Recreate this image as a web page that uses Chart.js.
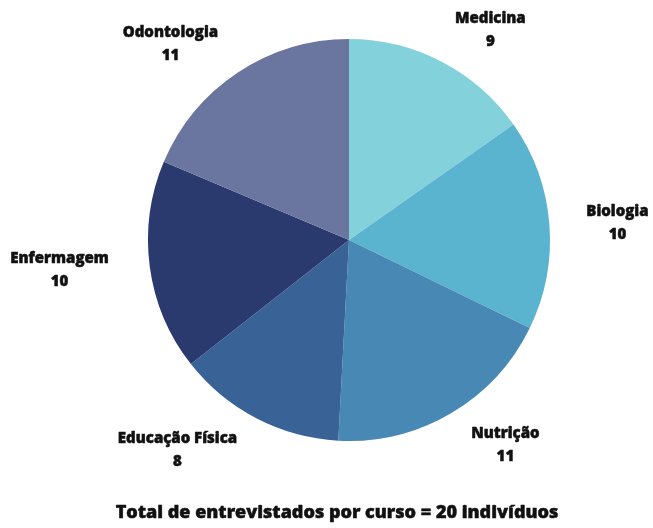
<!DOCTYPE html>
<html lang="pt">
<head>
<meta charset="utf-8">
<title>Entrevistados por curso</title>
<script src="https://cdn.jsdelivr.net/npm/chart.js@4.4.1/dist/chart.umd.min.js"></script>
<style>
  html, body { margin: 0; padding: 0; background: #fff; }
  #wrap { width: 653px; height: 528px; position: relative; }
</style>
</head>
<body>
<div id="wrap"><canvas id="grafico"></canvas></div>
<script>
// cursos e número de entrevistados
const cursos = ["Medicina", "Biologia", "Nutrição", "Educação Física", "Enfermagem", "Odontologia"];
const entrevistados = [9, 10, 11, 8, 10, 11];
const cores = ["#83d1da", "#5ab3cf", "#4888b4", "#396397", "#2b3a6e", "#6b76a0"];
const titulo = "Total de entrevistados por curso = 20 indivíduos";

// ajuste de posição dos rótulos: desvio de ângulo (graus) e distância ao centro (px)
const desvioAngulo = [6.5, 0.8, -6.8, 11.8, 1.7, -8.8];
const distRotulo = [253, 269, 258, 271, 291, 265];

const fonte = "'Open Sans', 'DejaVu Sans', sans-serif";

// escreve texto em negrito reforçado (contorno fino da mesma cor)
function textoForte(ctx, txt, x, y) {
  ctx.strokeText(txt, x, y);
  ctx.fillText(txt, x, y);
}

const rotulosPlugin = {
  id: 'rotulos',
  afterDraw(chart) {
    const ctx = chart.ctx;
    const arcs = chart.getDatasetMeta(0).data;
    ctx.save();
    ctx.fillStyle = '#111';
    ctx.strokeStyle = '#111';
    ctx.lineWidth = 0.5;
    ctx.lineJoin = 'round';
    ctx.textAlign = 'center';
    ctx.textBaseline = 'middle';
    arcs.forEach((arc, i) => {
      const meio = (arc.startAngle + arc.endAngle) / 2 + desvioAngulo[i] * Math.PI / 180;
      const x = arc.x + Math.cos(meio) * distRotulo[i];
      const y = arc.y + Math.sin(meio) * distRotulo[i];
      ctx.font = `800 15px ${fonte}`;
      textoForte(ctx, chart.data.labels[i], x, y - 11);
      textoForte(ctx, String(chart.data.datasets[0].data[i]), x, y + 12);
    });
    ctx.font = `800 18px ${fonte}`;
    textoForte(ctx, titulo, 337, 513);
    ctx.restore();
  }
};

new Chart(document.getElementById('grafico'), {
  type: 'pie',
  data: {
    labels: cursos,
    datasets: [{
      data: entrevistados,
      backgroundColor: cores,
      borderWidth: 0
    }]
  },
  options: {
    responsive: true,
    maintainAspectRatio: false,
    animation: false,
    layout: { padding: { top: 39, bottom: 87, left: 148, right: 103 } },
    plugins: {
      legend: { display: false },
      tooltip: { enabled: false }
    }
  },
  plugins: [rotulosPlugin]
});
</script>
</body>
</html>
